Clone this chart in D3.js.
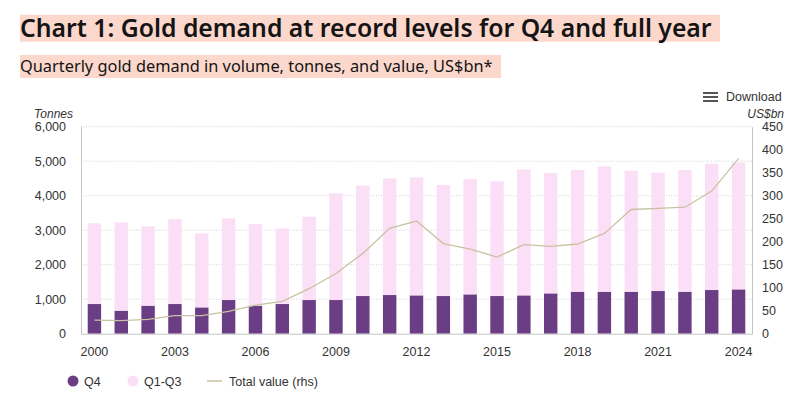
<!DOCTYPE html>
<html><head><meta charset="utf-8">
<script src="https://cdn.jsdelivr.net/npm/d3@7"></script>
<style>
body{margin:0;background:#fff;}
svg{display:block;}
</style></head>
<body>
<svg id="chart" width="800" height="400"></svg>
<script>
const years = ["2000","2001","2002","2003","2004","2005","2006","2007","2008","2009","2010","2011","2012","2013","2014","2015","2016","2017","2018","2019","2020","2021","2022","2023","2024"];
const q4 = [860,667,812,860,763,976,812,860,976,976,1092,1121,1111,1092,1140,1092,1111,1169,1217,1217,1217,1237,1217,1266,1285];
const q1q3 = [2338,2560,2299,2464,2145,2367,2367,2193,2415,3092,3198,3381,3420,3217,3343,3323,3652,3488,3527,3633,3508,3430,3527,3662,3672];
const totalValue = [29.7,28.3,31.2,39.1,39.1,48.5,62.3,70.3,97.8,131,174.6,229,245,196,184,166.7,193.5,190,195,218,270,272.5,275,310,381];
const leftTicks = [0,1000,2000,3000,4000,5000,6000];
const rightTicks = [0,50,100,150,200,250,300,350,400,450];
const xTickLabels = ["2000","2003","2006","2009","2012","2015","2018","2021","2024"];

const svg = d3.select("#chart");
const m = {l:81, r:752, t:126.7, b:333.7};

// Title blocks
function titleBlock(text, x, yBase, size, weight, targetW, bgTop, bgH){
  const bg = svg.append("rect").attr("fill","#fcd8cc");
  const t = svg.append("text").attr("x",x).attr("y",yBase)
    .attr("font-family","'Noto Sans', 'Open Sans', sans-serif")
    .attr("font-size",size).attr("font-weight",weight).attr("fill","#141414").text(text);
  const w = t.node().getComputedTextLength();
  const s = size*targetW/w;
  t.attr("font-size",s);
  bg.attr("x",20).attr("y",bgTop).attr("width",targetW+8).attr("height",bgH);
}
titleBlock("Chart 1: Gold demand at record levels for Q4 and full year",20,36.5,22,600,692,14.7,27);
titleBlock("Quarterly gold demand in volume, tonnes, and value, US$bn*",20,72,16,400,473,55,23);

const x = d3.scaleBand().domain(years).range([m.l,m.r]).paddingInner(0.5).paddingOuter(0.25);
const yL = d3.scaleLinear().domain([0,6000]).range([m.b,m.t]);
const yR = d3.scaleLinear().domain([0,450]).range([m.b,m.t]);

// grid
svg.append("g").selectAll("line").data(leftTicks.filter(d=>d>0)).join("line")
  .attr("x1",m.l).attr("x2",m.r).attr("y1",d=>yL(d)).attr("y2",d=>yL(d))
  .attr("stroke","#c8c8c8").attr("stroke-width",0.8).attr("stroke-dasharray","1,1.5");

// bars
const stackData = years.map((y,i)=>({year:y,q4:q4[i],q1q3:q1q3[i]}));
const series = d3.stack().keys(["q4","q1q3"])(stackData);
const colors = {q4:"#6b3d84", q1q3:"#fbdff6"};
svg.append("g").selectAll("g").data(series).join("g").attr("fill",d=>colors[d.key])
  .selectAll("rect").data(d=>d).join("rect")
  .attr("x",d=>x(d.data.year)).attr("width",x.bandwidth())
  .attr("y",d=>yL(d[1])).attr("height",d=>yL(d[0])-yL(d[1]));

// line
const line = d3.line().x((d,i)=>x(years[i])+x.bandwidth()/2).y(d=>yR(d));
svg.append("path").datum(totalValue).attr("d",line).attr("fill","none")
  .attr("stroke","#c9c2a2").attr("stroke-width",1.3);

// axes
const axisFont = "'Liberation Sans', Arial, sans-serif";
const gL = svg.append("g").attr("transform",`translate(${m.l},0)`)
  .call(d3.axisLeft(yL).tickValues(leftTicks).tickFormat(d3.format(",")).tickSize(0).tickPadding(15));
gL.select(".domain").attr("stroke","#c4c4c4");
const gR = svg.append("g").attr("transform",`translate(${m.r},0)`)
  .call(d3.axisRight(yR).tickValues(rightTicks).tickSize(0).tickPadding(10));
gR.select(".domain").attr("stroke","#c4c4c4");
const gB = svg.append("g").attr("transform",`translate(0,${m.b})`)
  .call(d3.axisBottom(x).tickValues(xTickLabels).tickSize(0).tickPadding(13));
gB.select(".domain").attr("stroke","#c4c4c4");
[gL,gR,gB].forEach(g=>g.selectAll("text").attr("font-family",axisFont).attr("font-size",12.5).attr("fill","#333"));

svg.append("text").attr("x",73).attr("y",118).attr("text-anchor","end")
  .attr("font-family",axisFont).attr("font-size",12).attr("font-style","italic").attr("fill","#333").text("Tonnes");
svg.append("text").attr("x",784).attr("y",118).attr("text-anchor","end")
  .attr("font-family",axisFont).attr("font-size",12).attr("font-style","italic").attr("fill","#333").text("US$bn");

// Download
const dl = svg.append("g");
[0,4,8].forEach(o=>dl.append("rect").attr("x",703).attr("y",92+o).attr("width",15).attr("height",2).attr("fill","#555"));
dl.append("text").attr("x",726).attr("y",101).attr("font-family",axisFont).attr("font-size",12.5).attr("fill","#333").text("Download");

// legend
const legend = [
  {label:"Q4", type:"circle", color:colors.q4, x:73},
  {label:"Q1-Q3", type:"circle", color:colors.q1q3, x:133},
  {label:"Total value (rhs)", type:"line", color:"#c9c2a2", x:207}
];
const lg = svg.append("g");
legend.forEach(d=>{
  if(d.type==="circle"){
    lg.append("circle").attr("cx",d.x).attr("cy",381).attr("r",5.5).attr("fill",d.color);
    lg.append("text").attr("x",d.x+11).attr("y",385.5).attr("font-family",axisFont).attr("font-size",12.5).attr("fill","#333").text(d.label);
  } else {
    lg.append("line").attr("x1",d.x).attr("x2",d.x+15).attr("y1",381).attr("y2",381).attr("stroke",d.color).attr("stroke-width",1.5);
    lg.append("text").attr("x",d.x+22).attr("y",385.5).attr("font-family",axisFont).attr("font-size",12.5).attr("fill","#333").text(d.label);
  }
});
</script>
</body></html>
